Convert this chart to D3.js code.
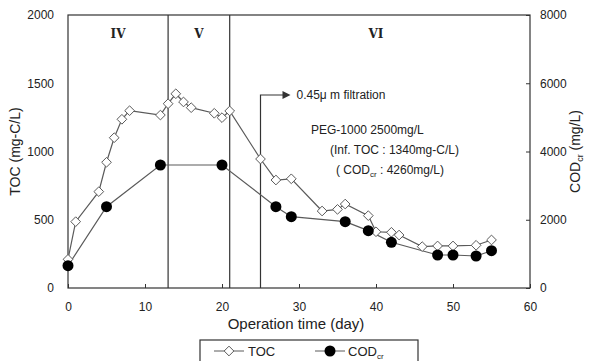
<!DOCTYPE html>
<html>
<head>
<meta charset="utf-8">
<script src="https://cdn.jsdelivr.net/npm/d3@7"></script>
<style>
  body { margin: 0; background: #fff; }
  text { font-family: "Liberation Sans", "Noto Sans CJK JP", sans-serif; fill: #222; }
</style>
</head>
<body>
<div id="chart"></div>
<script>
// TOC (mg-C/L), left axis
var tocDays = [0, 1, 4, 5, 6, 7, 8, 12, 13, 14, 15, 16, 19, 20, 21, 25, 27, 29, 33, 35, 36, 39, 40, 42, 43, 46, 48, 50, 53, 55];
var tocValues = [210, 486, 706, 921, 1101, 1236, 1299, 1267, 1350, 1423, 1363, 1321, 1280, 1248, 1297, 945, 791, 800, 564, 576, 615, 530, 412, 408, 388, 303, 308, 308, 313, 352];

// CODcr (mg/L), right axis
var codDays = [0, 5, 12, 20, 27, 29, 36, 39, 42, 48, 50, 53, 55];
var codValues = [653, 2383, 3604, 3604, 2383, 2090, 1943, 1680, 1339, 967, 967, 938, 1093];

var xTicks = [0, 10, 20, 30, 40, 50, 60];
var leftTicks = [0, 500, 1000, 1500, 2000];
var rightTicks = [0, 2000, 4000, 6000, 8000];
var phaseBounds = [13, 21];
var filtrationDay = 25;
var phaseLabels = [{ t: "IV", d: 6.5 }, { t: "V", d: 17 }, { t: "VI", d: 40 }];

var width = 589, height = 361;
var margin = { left: 68, right: 59, top: 15, bottom: 73 };
var innerW = width - margin.left - margin.right;
var innerH = height - margin.top - margin.bottom;

var svg = d3.select("#chart").append("svg")
    .attr("width", width)
    .attr("height", height);

var g = svg.append("g").attr("transform", "translate(" + margin.left + "," + margin.top + ")");

var x = d3.scaleLinear().domain([0, 60]).range([0, innerW]);
var yL = d3.scaleLinear().domain([0, 2000]).range([innerH, 0]);
var yR = d3.scaleLinear().domain([0, 8000]).range([innerH, 0]);

var axisColor = "#333";
var fmt = d3.format("d");

// frame
g.append("rect")
    .attr("width", innerW).attr("height", innerH)
    .attr("fill", "none").attr("stroke", axisColor).attr("stroke-width", 1.2);

// bottom axis (ticks inside)
var xAxis = g.append("g").attr("transform", "translate(0," + innerH + ")")
    .call(d3.axisBottom(x).tickValues(xTicks).tickFormat(fmt).tickSizeInner(-4).tickSizeOuter(0).tickPadding(14));
xAxis.select(".domain").remove();
xAxis.selectAll("line").attr("stroke", axisColor);
xAxis.selectAll("text").style("font-size", "12px").attr("fill", "#333");

// left axis
var lAxis = g.append("g")
    .call(d3.axisLeft(yL).tickValues(leftTicks).tickFormat(fmt).tickSize(0).tickPadding(14));
lAxis.select(".domain").remove();
lAxis.selectAll("text").style("font-size", "12px").attr("fill", "#333");

// right axis (ticks inside)
var rAxis = g.append("g").attr("transform", "translate(" + innerW + ",0)")
    .call(d3.axisRight(yR).tickValues(rightTicks).tickFormat(fmt).tickSizeInner(-4).tickSizeOuter(0).tickPadding(10));
rAxis.select(".domain").remove();
rAxis.selectAll("line").attr("stroke", axisColor);
rAxis.selectAll("text").style("font-size", "12px").attr("fill", "#333");

// phase boundaries
g.selectAll(".phase")
    .data(phaseBounds)
    .enter().append("line")
    .attr("class", "phase")
    .attr("x1", function (d) { return x(d); })
    .attr("x2", function (d) { return x(d); })
    .attr("y1", 0).attr("y2", innerH)
    .attr("stroke", axisColor).attr("stroke-width", 1.2);

g.selectAll(".phaseLabel")
    .data(phaseLabels)
    .enter().append("text")
    .attr("class", "phaseLabel")
    .attr("x", function (d) { return x(d.d); })
    .attr("y", 23)
    .attr("text-anchor", "middle")
    .style("font-family", "'DejaVu Serif', serif")
    .style("font-weight", "bold")
    .style("font-size", "12px")
    .text(function (d) { return d.t; });

// filtration marker
var fy = 80;
g.append("path")
    .attr("d", "M" + x(filtrationDay) + "," + innerH + "V" + fy + "H" + (x(filtrationDay) + 26))
    .attr("fill", "none").attr("stroke", axisColor).attr("stroke-width", 1.2);
g.append("path")
    .attr("d", "M" + (x(filtrationDay) + 30) + "," + fy + "l-8,-4l0,8z")
    .attr("fill", axisColor);
g.append("text")
    .attr("x", x(filtrationDay) + 36).attr("y", fy + 4)
    .style("font-size", "12px")
    .text("0.45\u03bc m  filtration");

// annotation
var note = g.append("text").style("font-size", "12px");
note.append("tspan").attr("x", 243).attr("y", 119).text("PEG-1000 2500mg/L");
note.append("tspan").attr("x", 262).attr("y", 139).text("(Inf. TOC : 1340mg-C/L)");
var n3 = note.append("tspan").attr("x", 268).attr("y", 159);
n3.append("tspan").text("(  COD");
n3.append("tspan").attr("dy", 3).style("font-size", "8px").text("cr");
n3.append("tspan").attr("dy", -3).text(" : 4260mg/L)");

var lineColor = "#5a5a5a";

var tocData = tocDays.map(function (d, i) { return { d: d, v: tocValues[i] }; });
var codData = codDays.map(function (d, i) { return { d: d, v: codValues[i] }; });

g.append("path")
    .datum(codData)
    .attr("fill", "none").attr("stroke", lineColor).attr("stroke-width", 1.2)
    .attr("d", d3.line().x(function (d) { return x(d.d); }).y(function (d) { return yR(d.v); }));

g.append("path")
    .datum(tocData)
    .attr("fill", "none").attr("stroke", lineColor).attr("stroke-width", 1.2)
    .attr("d", d3.line().x(function (d) { return x(d.d); }).y(function (d) { return yL(d.v); }));

var diamond = d3.symbol().type(d3.symbolDiamond2).size(60);
g.selectAll(".toc")
    .data(tocData)
    .enter().append("path")
    .attr("class", "toc")
    .attr("d", diamond)
    .attr("transform", function (d) { return "translate(" + x(d.d) + "," + yL(d.v) + ")"; })
    .attr("fill", "#fff").attr("stroke", lineColor).attr("stroke-width", 1);

g.selectAll(".cod")
    .data(codData)
    .enter().append("circle")
    .attr("class", "cod")
    .attr("cx", function (d) { return x(d.d); })
    .attr("cy", function (d) { return yR(d.v); })
    .attr("r", 5.5)
    .attr("fill", "#000");

// axis titles
svg.append("text")
    .attr("transform", "translate(20," + (margin.top + innerH / 2) + ") rotate(-90)")
    .attr("text-anchor", "middle")
    .style("font-size", "14px")
    .text("TOC (mg-C/L)");

var rt = svg.append("text")
    .attr("transform", "translate(580," + (margin.top + innerH / 2) + ") rotate(-90)")
    .attr("text-anchor", "middle")
    .style("font-size", "14px");
rt.append("tspan").text("COD");
rt.append("tspan").attr("dy", 3).style("font-size", "9px").text("cr");
rt.append("tspan").attr("dy", -3).text(" (mg/L)");

svg.append("text")
    .attr("x", margin.left + x(30) - 3).attr("y", 329)
    .attr("text-anchor", "middle")
    .style("font-size", "15px")
    .text("Operation time (day)");

// legend
var leg = svg.append("g").attr("transform", "translate(200,340)");
leg.append("rect").attr("width", 218).attr("height", 24)
    .attr("fill", "#fff").attr("stroke", axisColor).attr("stroke-width", 1.2);
leg.append("line").attr("x1", 14).attr("x2", 44).attr("y1", 11).attr("y2", 11).attr("stroke", lineColor);
leg.append("path").attr("d", diamond).attr("transform", "translate(29,11)")
    .attr("fill", "#fff").attr("stroke", lineColor);
leg.append("text").attr("x", 48).attr("y", 16).style("font-size", "13px").text("TOC");
leg.append("line").attr("x1", 115).attr("x2", 145).attr("y1", 11).attr("y2", 11).attr("stroke", lineColor);
leg.append("circle").attr("cx", 130).attr("cy", 11).attr("r", 5.5).attr("fill", "#000");
var lt = leg.append("text").attr("x", 148).attr("y", 16).style("font-size", "13px");
lt.append("tspan").text("COD");
lt.append("tspan").attr("dy", 3).style("font-size", "8px").text("cr");
</script>
</body>
</html>
